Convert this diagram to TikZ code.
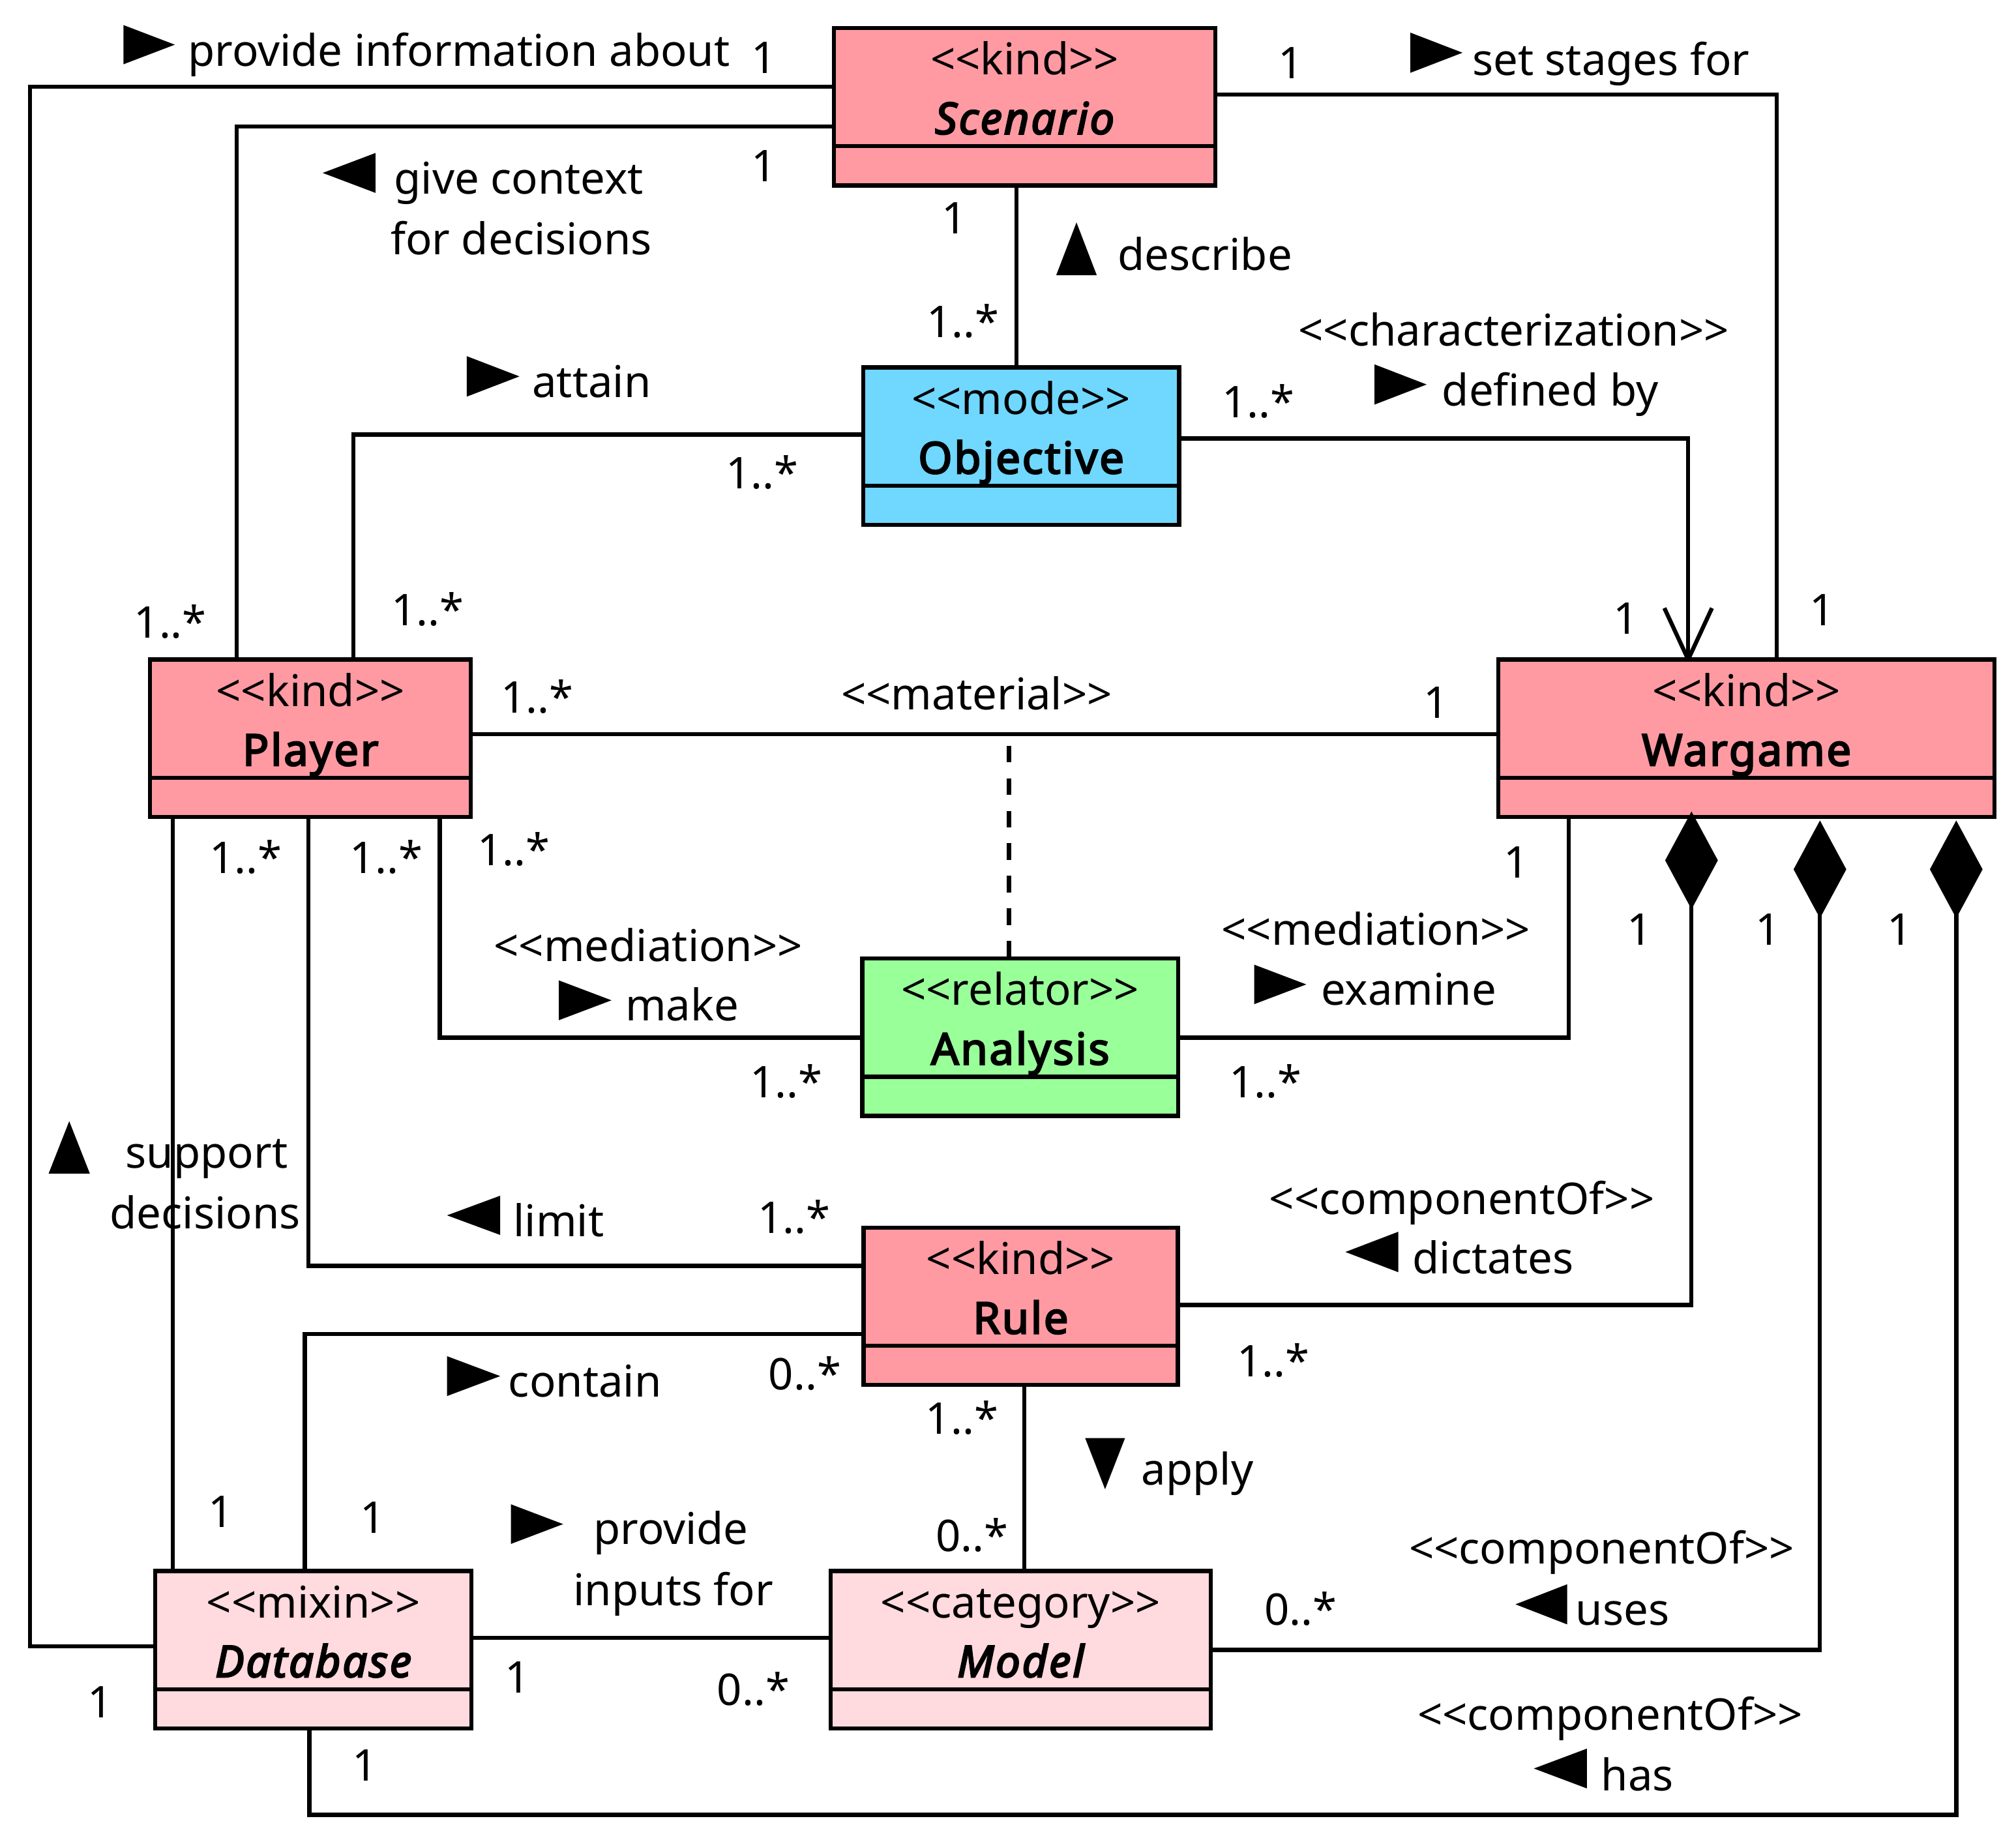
\documentclass[tikz,border=0pt]{standalone}
\usepackage{fontspec}
\setmainfont{Noto Sans}
\newfontfamily\nsb{Noto Sans}[FakeBold=3.5, LetterSpace=4]
\usetikzlibrary{arrows.meta}
\definecolor{kindc}{RGB}{255,154,162}
\definecolor{modec}{RGB}{112,215,255}
\definecolor{relc}{RGB}{153,255,153}
\definecolor{mixc}{RGB}{255,218,222}
\newcommand\stlt{<\kern0pt<}
\newcommand\stgt{>\kern0pt>}
\newcommand\trR[4]{\fill (#1,#2) -- (#1,#4) -- (#3,{(#2+#4)/2}) -- cycle;}
\newcommand\trL[4]{\fill (#3,#2) -- (#3,#4) -- (#1,{(#2+#4)/2}) -- cycle;}
\newcommand\trU[4]{\fill (#1,#4) -- (#3,#4) -- ({(#1+#3)/2},#2) -- cycle;}
\newcommand\trD[4]{\fill (#1,#2) -- (#3,#2) -- ({(#1+#3)/2},#4) -- cycle;}
\newcommand\umlclass[7]{%
  \node[umlbox, fill=#5, minimum width=#4pt] (#1) at (#2,#3) {};
  \draw[line width=3.2pt] ([yshift=-92pt]#1.north west) -- ([yshift=-92pt]#1.north east);
  \node[lbl] (#1-st) at ([yshift=-36.5pt]#1.north) {#6};
  \node[lbl] (#1-nm) at ([yshift=-82.5pt]#1.north) {#7};
}
\begin{document}
\begin{tikzpicture}[x=1pt,y=-1pt,
  font=\fontsize{34}{46}\selectfont,
  conn/.style={line width=3.2pt},
  umlbox/.style={draw, line width=3.2pt, minimum height=122.5pt, inner sep=0pt, outer sep=0pt},
  lbl/.style={anchor=base, inner sep=0pt, outer sep=0pt},
  comp/.style={-{Diamond[length=76pt,width=41pt,line width=0pt]}}]
\fill[white] (0,0) rectangle (1568,1429.5);
\useasboundingbox (0,0) rectangle (1568,1429.5);

% classes
\umlclass{scen}{797}{83}{296.6}{kindc}{\stlt kind\stgt}{\nsb\itshape Scenario}
\umlclass{obj}{794.2}{347}{245.7}{modec}{\stlt mode\stgt}{\nsb Objective}
\umlclass{play}{241.5}{574.2}{249.6}{kindc}{\stlt kind\stgt}{\nsb Player}
\umlclass{war}{1358.4}{574.2}{385.8}{kindc}{\stlt kind\stgt}{\nsb Wargame}
\umlclass{ana}{793.5}{806.7}{245.8}{relc}{\stlt relator\stgt}{\nsb Analysis}
\umlclass{rule}{793.9}{1016}{244.5}{kindc}{\stlt kind\stgt}{\nsb Rule}
\umlclass{db}{243.7}{1283.1}{246}{mixc}{\stlt mixin\stgt}{\nsb\itshape Database}
\umlclass{model}{793.8}{1283.1}{295.8}{mixc}{\stlt category\stgt}{\nsb\itshape Model}

% connectors
\draw[conn] (scen.west |- 0,67.6) -- (23.3,67.6) |- (db.west |- 0,1280.4);
\draw[conn] (scen.west |- 0,98.5) -| (play.north -| 184,0);
\draw[conn] (scen.south -| 790.5,0) -- (obj.north -| 790.5,0);
\draw[conn] (scen.east |- 0,73.6) -| (war.north -| 1382,0);
\draw[conn] (obj.west |- 0,338) -| (play.north -| 274.7,0);
\draw[conn] (obj.east |- 0,341) -| (war.north -| 1313,0);
\draw[conn, line join=round] ([xshift=-18.5pt,yshift=40pt]war.north -| 1313,0) -- (war.north -| 1313,0) -- ([xshift=18.5pt,yshift=40pt]war.north -| 1313,0);
\draw[conn] (play.east |- 0,571) -- (war.west |- 0,571);
\coordinate (matpt) at (784.7,580);
\draw[conn, dash pattern=on 13pt off 12.3pt] (matpt) -- (ana.north -| 784.7,0);
\draw[conn] (play.south -| 342,0) |- (ana.west |- 0,807);
\draw[conn] (ana.east |- 0,807) -| (war.south -| 1220,0);
\draw[conn] (play.south -| 240,0) |- (rule.west |- 0,984.5);
\draw[conn] (play.south -| 134.5,0) -- (db.north -| 134.5,0);
\draw[conn, comp, shorten >=-4.3pt] (rule.east |- 0,1015) -| (war.south -| 1315.6,0);
\draw[conn] (rule.west |- 0,1037.7) -| (db.north -| 237,0);
\draw[conn] (rule.south -| 796.7,0) -- (model.north -| 796.7,0);
\draw[conn] (db.east |- 0,1273.9) -- (model.west |- 0,1273.9);
\draw[conn, comp, shorten >=2.7pt] (model.east |- 0,1283.3) -| (war.south -| 1415.5,0);
\draw[conn, comp, shorten >=2.7pt] (db.south -| 240.6,0) |- (1521.5,1411.6) -- (war.south -| 1521.5,0);

% reading-direction triangles
\trR{96}{19.5}{136}{50}
\trL{251}{119}{292}{150}
\trR{1097}{25.4}{1137.5}{56.6}
\trU{821.5}{173}{853}{214}
\trR{363}{277}{404}{308.5}
\trR{1069}{283.4}{1109.6}{314.7}
\trR{434.6}{762.5}{475.6}{793.5}
\trR{975.5}{750.3}{1016}{781}
\trU{37.8}{872}{69.9}{912.8}
\trL{347.7}{930}{389}{960.5}
\trL{1046.4}{958}{1087.6}{989.5}
\trR{347.7}{1054.8}{389}{1085.8}
\trD{844}{1118.5}{875}{1158.3}
\trR{397.4}{1170}{438}{1200.8}
\trL{1178.7}{1232.2}{1218.9}{1263.4}
\trL{1193}{1360}{1234.3}{1391}

% labels
\node[lbl] (t-prov) at (357,51.5) {provide information about};
\node[lbl] (m-a1) at (594,57) {1};
\node[lbl] (t-give1) at (403.5,151) {give context};
\node[lbl] (t-give2) at (405.5,198) {for decisions};
\node[lbl] (m-b1) at (594,141) {1};
\node[lbl] (m-b2) at (132.5,496) {1..*};
\node[lbl] (m-d1) at (1004,61) {1};
\node[lbl] (t-set) at (1253,58.5) {set stages for};
\node[lbl] (m-d2) at (1417.2,486.8) {1};
\node[lbl] (m-c1) at (742,182) {1};
\node[lbl] (t-desc) at (937.3,210) {describe};
\node[lbl] (m-c2) at (749,262.6) {1..*};
\node[lbl] (t-char) at (1177.3,269) {\stlt characterization\stgt};
\node[lbl] (m-f1) at (978.8,325) {1..*};
\node[lbl] (t-def) at (1205.7,315.8) {defined by};
\node[lbl] (m-f2) at (1264.7,493.2) {1};
\node[lbl] (t-att) at (460.2,309.3) {attain};
\node[lbl] (m-e1) at (592.7,380.3) {1..*};
\node[lbl] (m-e2) at (332.7,486.8) {1..*};
\node[lbl] (t-mat) at (759.7,551.9) {\stlt material\stgt};
\node[lbl] (m-g1) at (417.8,554.6) {1..*};
\node[lbl] (m-g2) at (1117,558.7) {1};
\node[lbl] (m-k1) at (191.3,679.5) {1..*};
\node[lbl] (m-j1) at (300.5,679.5) {1..*};
\node[lbl] (m-h1) at (399.5,673) {1..*};
\node[lbl] (t-med1) at (504.2,747.7) {\stlt mediation\stgt};
\node[lbl] (t-make) at (530.5,794) {make};
\node[lbl] (m-h2) at (611.6,853.8) {1..*};
\node[lbl] (m-i1) at (1179.5,682.8) {1};
\node[lbl] (m-l1) at (1275.3,735) {1};
\node[lbl] (m-p1) at (1375,735) {1};
\node[lbl] (m-q1) at (1477.3,735) {1};
\node[lbl] (t-med2) at (1070.2,735.3) {\stlt mediation\stgt};
\node[lbl] (t-exam) at (1095.7,781.8) {examine};
\node[lbl] (m-i2) at (984.3,853.8) {1..*};
\node[lbl] (t-sup1) at (160.8,908.4) {support};
\node[lbl] (t-sup2) at (159.6,955.5) {decisions};
\node[lbl] (t-lim) at (434.5,961.7) {limit};
\node[lbl] (m-j2) at (617.5,959) {1..*};
\node[lbl] (t-cont) at (455,1086.6) {contain};
\node[lbl] (m-m1) at (626,1081) {0..*};
\node[lbl] (m-n1) at (748.2,1115.6) {1..*};
\node[lbl] (m-k2) at (171.5,1188) {1};
\node[lbl] (m-m2) at (290,1192.4) {1};
\node[lbl] (t-pi1) at (521.8,1201.3) {provide};
\node[lbl] (t-pi2) at (523.8,1249) {inputs for};
\node[lbl] (m-n2) at (756,1206.9) {0..*};
\node[lbl] (m-o1) at (402.3,1316.6) {1};
\node[lbl] (m-o2) at (586,1326.4) {0..*};
\node[lbl] (m-a2) at (78,1335.8) {1};
\node[lbl] (m-q2) at (283.8,1385.4) {1};
\node[lbl] (t-co1) at (1137,944.7) {\stlt componentOf\stgt};
\node[lbl] (t-dict) at (1161.2,990.7) {dictates};
\node[lbl] (m-l2) at (990.3,1071) {1..*};
\node[lbl] (t-apply) at (931.3,1154.7) {apply};
\node[lbl] (t-co2) at (1245.7,1216.3) {\stlt componentOf\stgt};
\node[lbl] (t-uses) at (1262,1264.1) {uses};
\node[lbl] (m-p2) at (1011.6,1264) {0..*};
\node[lbl] (t-co3) at (1252.3,1345.6) {\stlt componentOf\stgt};
\node[lbl] (t-has) at (1273.6,1392.7) {has};
\end{tikzpicture}
\end{document}
